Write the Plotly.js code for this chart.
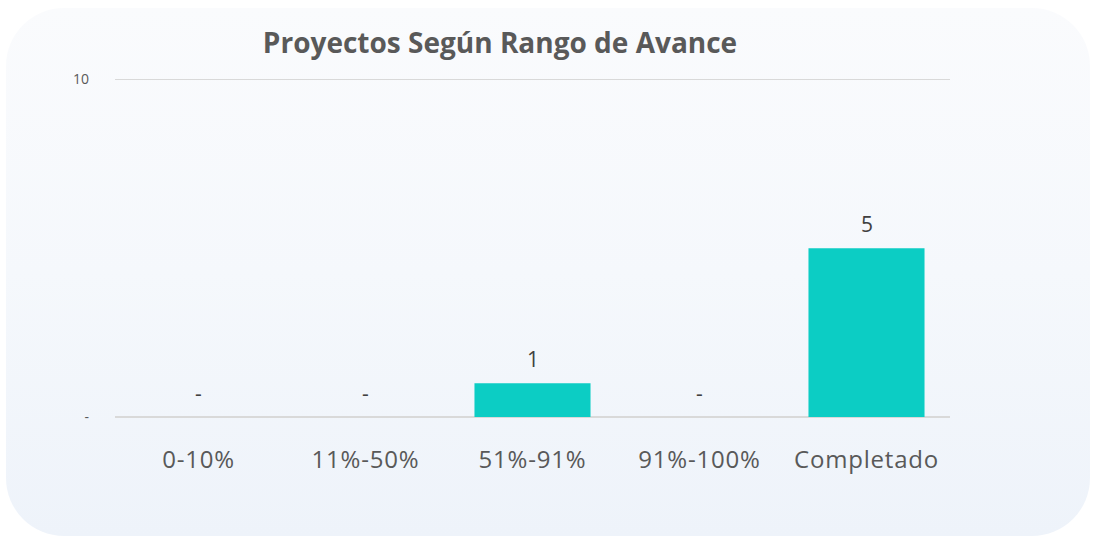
<!DOCTYPE html>
<html>
<head>
<meta charset="utf-8">
<script src="https://cdn.plot.ly/plotly-3.0.1.min.js"></script>
<style>
  html, body { margin:0; padding:0; background:#ffffff; width:1094px; height:541px; overflow:hidden; }
  #bg { position:absolute; left:6px; top:8px; width:1084px; height:528px; border-radius:58px;
        background:linear-gradient(to bottom, #fafbfd 0%, #f5f8fc 50%, #eef3fa 100%); }
  #chart { position:absolute; left:0; top:0; width:1094px; height:541px; }
  #chart .xtick text { letter-spacing: 0.8px; }
</style>
</head>
<body>
<div id="bg"></div>
<div id="chart"></div>
<script>
const categories = ["0-10%", "11%-50%", "51%-91%", "91%-100%", "Completado"];
const values = [0, 0, 1, 0, 5];
const yTickVals = [0, 10];
const yTickText = ["-", "10"];
const titleText = "Proyectos Según Rango de Avance";

const labels = values.map(v => v === 0 ? "-" : String(v));
const FONT = "'Open Sans', 'Noto Sans', sans-serif";

const trace = {
  type: "bar",
  x: categories,
  y: values,
  marker: { color: "#0ccdc4" },
  width: 0.695,
  hoverinfo: "skip"
};

const annotations = categories.map((c, i) => ({
  x: c, y: values[i], xref: "x", yref: "y",
  text: labels[i], showarrow: false,
  yanchor: "middle", yshift: 24,
  font: { family: FONT, size: 21, color: "#404040" }
}));

const layout = {
  width: 1094, height: 541,
  paper_bgcolor: "rgba(0,0,0,0)",
  plot_bgcolor: "rgba(0,0,0,0)",
  margin: { l: 115, r: 144, t: 76, b: 124 },
  showlegend: false,
  title: {
    text: "<b>" + titleText + "</b>",
    font: { family: FONT, size: 28, color: "#595959" },
    x: 500 / 1094, xref: "container", xanchor: "center",
    y: 1 - 43 / 541, yref: "container", yanchor: "middle"
  },
  xaxis: {
    type: "category",
    showgrid: false, zeroline: false, showline: false,
    ticks: "",
    ticklabelstandoff: 26,
    tickfont: { family: FONT, size: 24, color: "#595959" }
  },
  yaxis: {
    range: [0, 10.1],
    tickvals: yTickVals, ticktext: yTickText,
    showgrid: true, gridcolor: "#d9d9d9", gridwidth: 1.5,
    zeroline: true, zerolinecolor: "#d9d9d9", zerolinewidth: 1.5,
    showline: false, ticks: "",
    ticklabelstandoff: 25,
    tickfont: { family: FONT, size: 14, color: "#595959" }
  },
  annotations: annotations,
  bargap: 0.3
};

Plotly.newPlot("chart", [trace], layout, { displayModeBar: false, staticPlot: true });
</script>
</body>
</html>
